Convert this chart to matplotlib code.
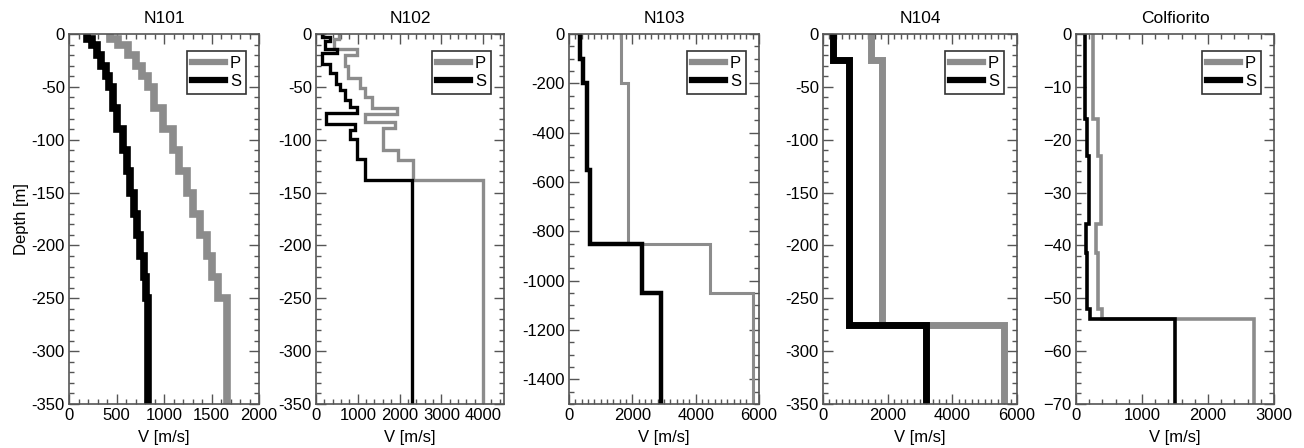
import numpy as np
import matplotlib
matplotlib.use("Agg")
import matplotlib.pyplot as plt
from matplotlib.ticker import MultipleLocator, FuncFormatter

plt.rcParams['font.family'] = ['Liberation Sans', 'DejaVu Sans']
plt.rcParams['axes.unicode_minus'] = False

# ------------------------------------------------------------
# velocity profiles: layer tops [m], last bottom, velocities [m/s]
# ------------------------------------------------------------
n101_p_tops = [0, 5, 10, 20, 30, 40, 50, 70, 90, 110, 130, 150, 170, 190, 210, 230, 250]
n101_p_vel = [430, 520, 620, 710, 765, 835, 890, 990, 1090, 1160, 1240, 1310, 1380, 1450, 1500, 1570, 1660]
n101_s_tops = [0, 5, 10, 20, 30, 40, 50, 70, 90, 110, 130, 150, 170, 190, 210, 230, 250]
n101_s_vel = [190, 240, 290, 340, 390, 425, 460, 510, 565, 610, 645, 680, 715, 750, 785, 810, 830]

n102_p_tops = [0, 5, 14, 20, 30, 42, 51, 60, 70, 76, 83, 89, 110, 119, 138]
n102_p_vel = [560, 420, 970, 690, 770, 1050, 1170, 1330, 1930, 1170, 1890, 1610, 1970, 2330, 3990]
n102_s_tops = [0, 3, 7, 14, 18, 28, 37, 47, 53, 62, 69, 75, 85, 91, 99, 118, 138]
n102_s_vel = [140, 330, 220, 500, 140, 330, 490, 570, 690, 810, 980, 230, 930, 810, 980, 1180, 2300]

n103_p_tops = [0, 200, 850, 1050]
n103_p_vel = [1650, 1850, 4450, 5800]
n103_s_tops = [0, 100, 200, 550, 850, 1050]
n103_s_vel = [350, 450, 560, 660, 2300, 2900]

n104_p_tops = [0, 25, 275]
n104_p_vel = [1490, 1810, 5600]
n104_s_tops = [0, 25, 275]
n104_s_vel = [300, 800, 3200]

colf_p_tops = [0, 16, 23, 36, 41.5, 52, 54]
colf_p_vel = [263, 328, 374, 298, 338, 389, 2700]
colf_s_tops = [0, 16, 23, 36, 41.5, 52, 54]
colf_s_vel = [140, 162, 202, 152, 172, 212, 1500]

titles = ["N101", "N102", "N103", "N104", "Colfiorito"]
bottoms = [350, 350, 1500, 350, 70]
xmax = [2000, 4500, 6000, 6000, 3000]
xmajor = [500, 1000, 2000, 2000, 1000]
xminor = [100, 200, 200, 200, 200]
ymajor = [50, 50, 200, 50, 10]
yminor = [10, 10, 50, 10, 2]
lw_p = [5.5, 2.4, 2.2, 5, 2.6]
lw_s = [5.5, 2.4, 3.2, 5, 2.6]

profiles = [
  (n101_p_tops, n101_p_vel, n101_s_tops, n101_s_vel),
  (n102_p_tops, n102_p_vel, n102_s_tops, n102_s_vel),
  (n103_p_tops, n103_p_vel, n103_s_tops, n103_s_vel),
  (n104_p_tops, n104_p_vel, n104_s_tops, n104_s_vel),
  (colf_p_tops, colf_p_vel, colf_s_tops, colf_s_vel),
]


def step_profile(tops, vel, bottom):
  edges = list(tops) + [bottom]
  v = np.repeat(vel, 2)
  d = np.array([(edges[i], edges[i + 1]) for i in range(len(vel))]).ravel()
  return v, -d


W, H = 1304, 448
fig = plt.figure(figsize=(W / 100, H / 100), dpi=100)

lefts = [69, 316, 569, 823, 1076]
widths = [190, 188, 190, 194, 198]
ax_bottom = 44
ax_height = 370

GRAY = "#8c8c8c"
FRAME = "#555555"

for i in range(5):
  ax = fig.add_axes([lefts[i] / W, ax_bottom / H, widths[i] / W, ax_height / H])
  pt, pv, st, sv = profiles[i]
  x, y = step_profile(pt, pv, bottoms[i])
  ax.plot(x, y, color=GRAY, lw=lw_p[i], label="P", solid_joinstyle='miter')
  x, y = step_profile(st, sv, bottoms[i])
  ax.plot(x, y, color="black", lw=lw_s[i], label="S", solid_joinstyle='miter')

  ax.set_xlim(0, xmax[i])
  ax.set_ylim(-bottoms[i], 0)
  ax.xaxis.set_major_locator(MultipleLocator(xmajor[i]))
  ax.xaxis.set_minor_locator(MultipleLocator(xminor[i]))
  ax.yaxis.set_major_locator(MultipleLocator(ymajor[i]))
  ax.yaxis.set_minor_locator(MultipleLocator(yminor[i]))
  ax.tick_params(which='both', direction='in', top=True, right=True,
                 colors=FRAME, labelcolor='black', labelsize=12, width=1)
  ax.tick_params(which='major', length=7, pad=3)
  ax.tick_params(which='minor', length=3.5)
  for sp in ax.spines.values():
    sp.set_color(FRAME)
    sp.set_linewidth(1.2)

  if i == 4:
    ax.yaxis.set_major_formatter(FuncFormatter(lambda v, p: f"{v:.0f}".replace("-", "\u2212")))

  ax.set_title(titles[i], fontsize=12.5, pad=8)
  ax.set_xlabel("V [m/s]", fontsize=12, labelpad=5)
  if i == 0:
    ax.set_ylabel("Depth [m]", fontsize=12, labelpad=2)

  leg = ax.legend(loc='upper right', bbox_to_anchor=(1 - 13 / widths[i], 1 - 17 / ax_height),
                  borderaxespad=0, fancybox=False, framealpha=1, fontsize=12,
                  handlelength=2.0, handletextpad=0.3, borderpad=0.3, labelspacing=0.15)
  leg.get_frame().set_edgecolor("#333333")
  leg.get_frame().set_linewidth(1.2)
  for ln in leg.get_lines():
    ln.set_linewidth(4.5)

fig.savefig("out.png", dpi=100)
